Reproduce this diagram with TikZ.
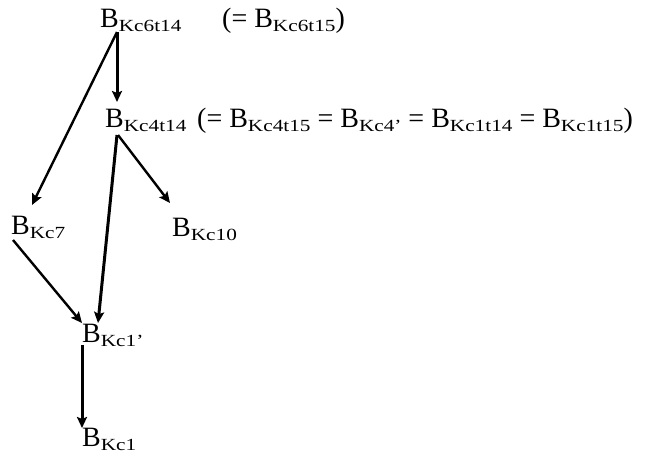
\documentclass[tikz,border=0pt]{standalone}
\usepackage{fontspec}
\setmainfont{Liberation Serif}
\newfontfamily\subfont[FakeStretch=1.25]{Liberation Serif}
\usepackage{tikz}
\usetikzlibrary{arrows.meta}

\newcommand{\ksub}[1]{\raisebox{-4pt}{\subfont\fontsize{17}{17}\selectfont #1}}
\newcommand{\Bk}[1]{B\ksub{#1}}

\begin{document}
\begin{tikzpicture}[x=1pt, y=-1pt,
    >={Stealth[length=11pt,width=10pt,inset=2pt]},
    every node/.style={inner sep=0pt, anchor=base west, font=\fontsize{28}{30}\selectfont},
    arr/.style={->, line width=2.4pt}]
      \useasboundingbox (0,0) rectangle (645,459);

      \node (kc6) at (100,27) {\Bk{Kc6t14}};
      \node (eq6) at (222,27) {(= \Bk{Kc6t15})};

      \node (kc4) at (105,127) {\Bk{Kc4t14}};
      \node (eq4) at (197,127) {(= \Bk{Kc4t15} = \Bk{Kc4’} = \Bk{Kc1t14} = \Bk{Kc1t15})};

      \node (kc7) at (11,234) {\Bk{Kc7}};
      \node (kc10) at (172,236) {\Bk{Kc10}};

      \node (kc1p) at (82,342) {\Bk{Kc1’}};
      \node (kc1) at (82,446) {\Bk{Kc1}};

      \draw[arr, line width=3pt] ([xshift=17pt,yshift=-5pt]kc6.base west) -- ([xshift=12pt,yshift=25pt]kc4.base west);
      \draw[arr] ([xshift=17pt,yshift=-5pt]kc6.base west) -- ([xshift=21pt,yshift=29pt]kc7.base west);

      \draw[arr] ([xshift=13pt,yshift=-8pt]kc4.base west) -- ([xshift=-2pt,yshift=33pt]kc10.base west);
      \draw[arr, line width=3pt] ([xshift=12pt,yshift=-8pt]kc4.base west) -- ([xshift=16pt,yshift=19pt]kc1p.base west);

      \draw[arr] ([xshift=2pt,yshift=-6pt]kc7.base west) -- ([yshift=19pt]kc1p.base west);
      \draw[arr, line width=3pt] ([yshift=-3pt]kc1p.base west) -- ([yshift=18pt]kc1.base west);
    \end{tikzpicture}
\end{document}
